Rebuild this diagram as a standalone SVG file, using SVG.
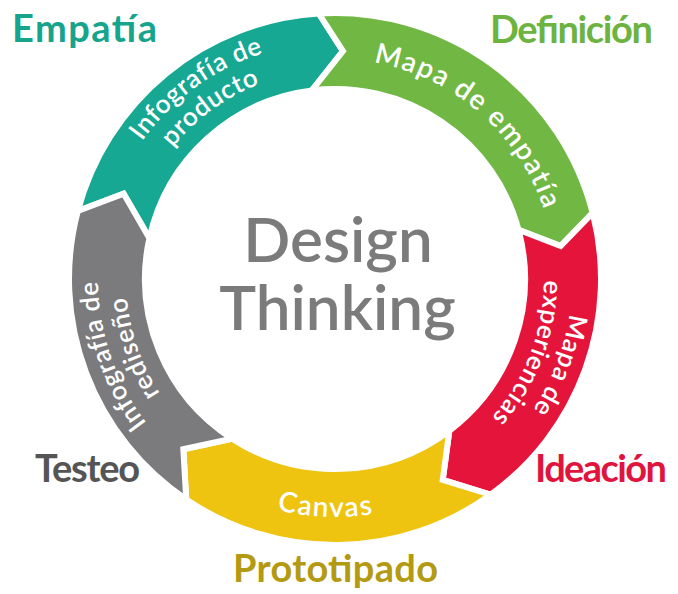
<svg xmlns="http://www.w3.org/2000/svg" xmlns:xlink="http://www.w3.org/1999/xlink" width="678" height="594" viewBox="0 0 678 594">
<style>
.seg{stroke:#ffffff;stroke-width:6;stroke-linejoin:miter}
.ring{font-family:Lato,"Open Sans","Liberation Sans",sans-serif;font-size:26px;font-weight:600;letter-spacing:0.6px;fill:#ffffff;text-anchor:middle}
.big{font-size:28px;letter-spacing:1.6px}
.stage{font-family:Lato,"Open Sans","Liberation Sans",sans-serif;font-size:38px;font-weight:700}
.center{font-family:Lato,"Open Sans","Liberation Sans",sans-serif;font-size:62px;font-weight:600;fill:#7b7b7b;text-anchor:middle}
</style>
<defs>
<path id="pTeal1" d="M 100.92 241.93 A 237 237 0 0 1 372.07 44.92"/>
<path id="pTeal2" d="M 128.57 246.31 A 209 209 0 0 1 367.69 72.57"/>
<path id="pGreen" d="M 319.65 59.54 A 220 220 0 0 1 554.46 263.65"/>
<path id="pRed1" d="M 551.51 182.60 A 237 237 0 0 1 431.40 495.51"/>
<path id="pRed2" d="M 525.93 193.99 A 209 209 0 0 1 420.01 469.93"/>
<path id="pGray1" d="M 231.11 492.01 A 237 237 0 0 1 121.99 175.11"/>
<path id="pGray2" d="M 243.38 466.85 A 209 209 0 0 1 147.15 187.38"/>
<path id="pYellow" d="M 160.09 440.40 A 238 238 0 0 0 496.40 453.91"/>
</defs>
<rect width="678" height="594" fill="#ffffff"/>

<g id="empatia">
<path class="seg" fill="#16a892" d="M 77.83 211.05 A 266 266 0 0 1 318.76 13.50 L 342.96 51.14 L 311.84 90.42 A 190 190 0 0 0 149.43 238.20 L 123.60 193.59 Z"/>
<text class="ring"><textPath href="#pTeal1" xlink:href="#pTeal1" startOffset="50%">Infografía de</textPath></text>
<text class="ring"><textPath href="#pTeal2" xlink:href="#pTeal2" startOffset="50%">producto</textPath></text>
<text class="stage" x="12" y="42" fill="#16a48d" textLength="145">Empatía</text>
</g>

<g id="definicion">
<path class="seg" fill="#70b843" d="M 318.76 13.50 A 266 266 0 0 1 592.64 212.85 L 560.61 246.09 L 518.53 229.82 A 190 190 0 0 0 311.84 90.42 L 342.96 51.14 Z"/>
<text class="ring big"><textPath href="#pGreen" xlink:href="#pGreen" startOffset="50%">Mapa de empatía</textPath></text>
<text class="stage" x="490" y="43" fill="#6db33f" textLength="163">Definición</text>
</g>

<g id="ideacion">
<path class="seg" fill="#e5143a" d="M 592.64 212.85 A 266 266 0 0 1 490.64 494.73 L 442.74 479.94 L 449.35 430.74 A 190 190 0 0 0 518.53 229.82 L 560.61 246.09 Z"/>
<text class="ring"><textPath href="#pRed1" xlink:href="#pRed1" startOffset="50%">Mapa de</textPath></text>
<text class="ring"><textPath href="#pRed2" xlink:href="#pRed2" startOffset="50%">experiencias</textPath></text>
<text class="stage" x="535" y="482" fill="#e0143c" textLength="132">Ideación</text>
</g>

<g id="prototipado">
<path class="seg" fill="#eec411" d="M 490.64 494.73 A 266 266 0 0 1 186.26 499.52 L 183.33 449.23 L 232.08 438.71 A 190 190 0 0 0 449.35 430.74 L 442.74 479.94 Z"/>
<text class="ring big"><textPath href="#pYellow" xlink:href="#pYellow" startOffset="50%">Canvas</textPath></text>
<text class="stage" x="233" y="582" fill="#b39a12" textLength="205">Prototipado</text>
</g>

<g id="testeo">
<path class="seg" fill="#7b7b7d" d="M 186.26 499.52 A 266 266 0 0 1 77.83 211.05 L 123.60 193.59 L 149.43 238.20 A 190 190 0 0 0 232.08 438.71 L 183.33 449.23 Z"/>
<text class="ring"><textPath href="#pGray1" xlink:href="#pGray1" startOffset="50%">Infografía de</textPath></text>
<text class="ring"><textPath href="#pGray2" xlink:href="#pGray2" startOffset="50%">rediseño</textPath></text>
<text class="stage" x="35" y="482" fill="#555555" textLength="105">Testeo</text>
</g>

<g id="design-thinking">
<text class="center" x="338" y="262">Design</text>
<text class="center" x="337.5" y="330">Thinking</text>
</g>
</svg>
